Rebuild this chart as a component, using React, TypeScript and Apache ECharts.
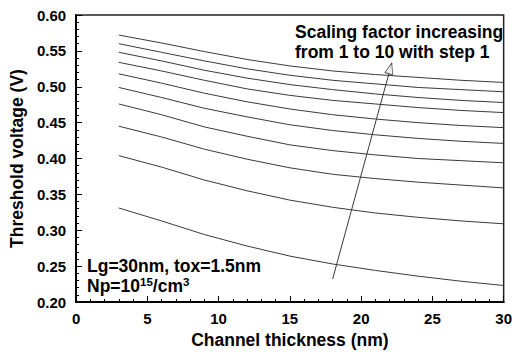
import React, { useEffect, useRef } from "react";
import * as echarts from "echarts";

const thickness = [3, 6, 9, 12, 15, 18, 21, 24, 27, 30];
const vtScale1 = [0.331, 0.313, 0.294, 0.278, 0.264, 0.253, 0.244, 0.236, 0.229, 0.223];
const vtScale2 = [0.404, 0.388, 0.37, 0.355, 0.342, 0.332, 0.324, 0.318, 0.313, 0.309];
const vtScale3 = [0.445, 0.43, 0.413, 0.399, 0.387, 0.378, 0.372, 0.367, 0.363, 0.359];
const vtScale4 = [0.476, 0.461, 0.444, 0.431, 0.419, 0.411, 0.405, 0.4, 0.397, 0.394];
const vtScale5 = [0.499, 0.485, 0.47, 0.458, 0.447, 0.439, 0.433, 0.428, 0.424, 0.421];
const vtScale6 = [0.518, 0.505, 0.491, 0.479, 0.469, 0.461, 0.455, 0.45, 0.446, 0.443];
const vtScale7 = [0.534, 0.522, 0.509, 0.497, 0.488, 0.481, 0.476, 0.471, 0.467, 0.464];
const vtScale8 = [0.548, 0.536, 0.523, 0.512, 0.503, 0.496, 0.49, 0.485, 0.481, 0.478];
const vtScale9 = [0.56, 0.548, 0.536, 0.525, 0.516, 0.509, 0.504, 0.499, 0.496, 0.493];
const vtScale10 = [0.572, 0.561, 0.549, 0.538, 0.529, 0.522, 0.517, 0.513, 0.509, 0.506];
const allCurves = [vtScale1, vtScale2, vtScale3, vtScale4, vtScale5, vtScale6, vtScale7, vtScale8, vtScale9, vtScale10];

const arrowFrom = [18, 0.232];
const arrowTo = [22.15, 0.533];

const xTitle = "Channel thickness (nm)";
const yTitle = "Threshold voltage (V)";
const noteScaling = "Scaling factor increasing\nfrom 1 to 10 with step 1";
const noteParams = "Lg=30nm, tox=1.5nm\nNp=10{sup|15}/cm{sup|3}";

const FONT = '"Liberation Sans", Arial, sans-serif';

export default function App() {
  const ref = useRef<HTMLDivElement>(null);
  useEffect(() => {
    document.body.style.margin = "0";
    const chart = echarts.init(ref.current!, null, { renderer: "svg" });
    const curveSeries = allCurves.map((vals, i) => ({
      type: "line",
      name: "scale" + (i + 1),
      data: thickness.map((x, j) => [x, vals[j]]),
      showSymbol: false,
      symbol: "none",
      lineStyle: { color: "#3a3a3a", width: 1 },
      silent: true,
    }));
    chart.setOption({
      animation: false,
      grid: {
        left: 75,
        top: 15,
        right: 7,
        bottom: 50,
        show: true,
        borderColor: "#222",
        borderWidth: 1.5,
        backgroundColor: "transparent",
      },
      xAxis: {
        type: "value",
        min: 0,
        max: 30,
        interval: 5,
        name: xTitle,
        nameLocation: "middle",
        nameGap: 29,
        nameTextStyle: { fontFamily: FONT, fontWeight: "bold", fontSize: 17.5, color: "#000" },
        axisLine: { show: true, lineStyle: { color: "#000", width: 2 } },
        axisTick: { inside: true, length: 6, lineStyle: { color: "#000", width: 1 } },
        minorTick: { show: true, splitNumber: 5, length: 3, lineStyle: { color: "#000", width: 1 } },
        splitLine: { show: false },
        axisLabel: { fontFamily: FONT, fontWeight: "bold", fontSize: 15, color: "#000", margin: 9 },
      },
      yAxis: {
        type: "value",
        min: 0.2,
        max: 0.6,
        interval: 0.05,
        name: yTitle,
        nameLocation: "middle",
        nameGap: 50,
        nameTextStyle: { fontFamily: FONT, fontWeight: "bold", fontSize: 17.5, color: "#000" },
        axisLine: { show: true, lineStyle: { color: "#000", width: 2 } },
        axisTick: { inside: true, length: 6, lineStyle: { color: "#000", width: 1 } },
        minorTick: { show: true, splitNumber: 5, length: 3, lineStyle: { color: "#000", width: 1 } },
        splitLine: { show: false },
        axisLabel: {
          fontFamily: FONT,
          fontWeight: "bold",
          fontSize: 15,
          color: "#000",
          margin: 10,
          formatter: (v: number) => v.toFixed(2),
        },
      },
      series: [
        ...curveSeries,
        {
          type: "line",
          name: "arrow",
          data: [arrowFrom, arrowTo],
          showSymbol: false,
          symbol: "none",
          lineStyle: { color: "#3a3a3a", width: 1 },
          silent: true,
          z: 5,
        },
        {
          type: "scatter",
          name: "arrowHead",
          data: [arrowTo],
          symbol: "triangle",
          symbolSize: [8, 11],
          symbolRotate: -15.4,
          symbolOffset: [-1.5, 5.3],
          itemStyle: { color: "#fff", borderColor: "#3a3a3a", borderWidth: 1 },
          silent: true,
          z: 6,
        },
      ],
      graphic: [
        {
          type: "text",
          left: 295,
          top: 22,
          style: {
            text: noteScaling,
            fontFamily: FONT,
            fontWeight: "bold",
            fontSize: 17.5,
            lineHeight: 20,
            fill: "#000",
          },
        },
        {
          type: "text",
          left: 87,
          top: 256,
          style: {
            text: noteParams,
            fontFamily: FONT,
            fontWeight: "bold",
            fontSize: 17.5,
            lineHeight: 20,
            fill: "#000",
            rich: {
              sup: {
                fontFamily: FONT,
                fontWeight: "bold",
                fontSize: 11.5,
                lineHeight: 10,
                verticalAlign: "top",
                fill: "#000",
              },
            },
          },
        },
      ],
    });
    return () => chart.dispose();
  }, []);
  return <div ref={ref} style={{ width: 515, height: 354 }} />;
}
